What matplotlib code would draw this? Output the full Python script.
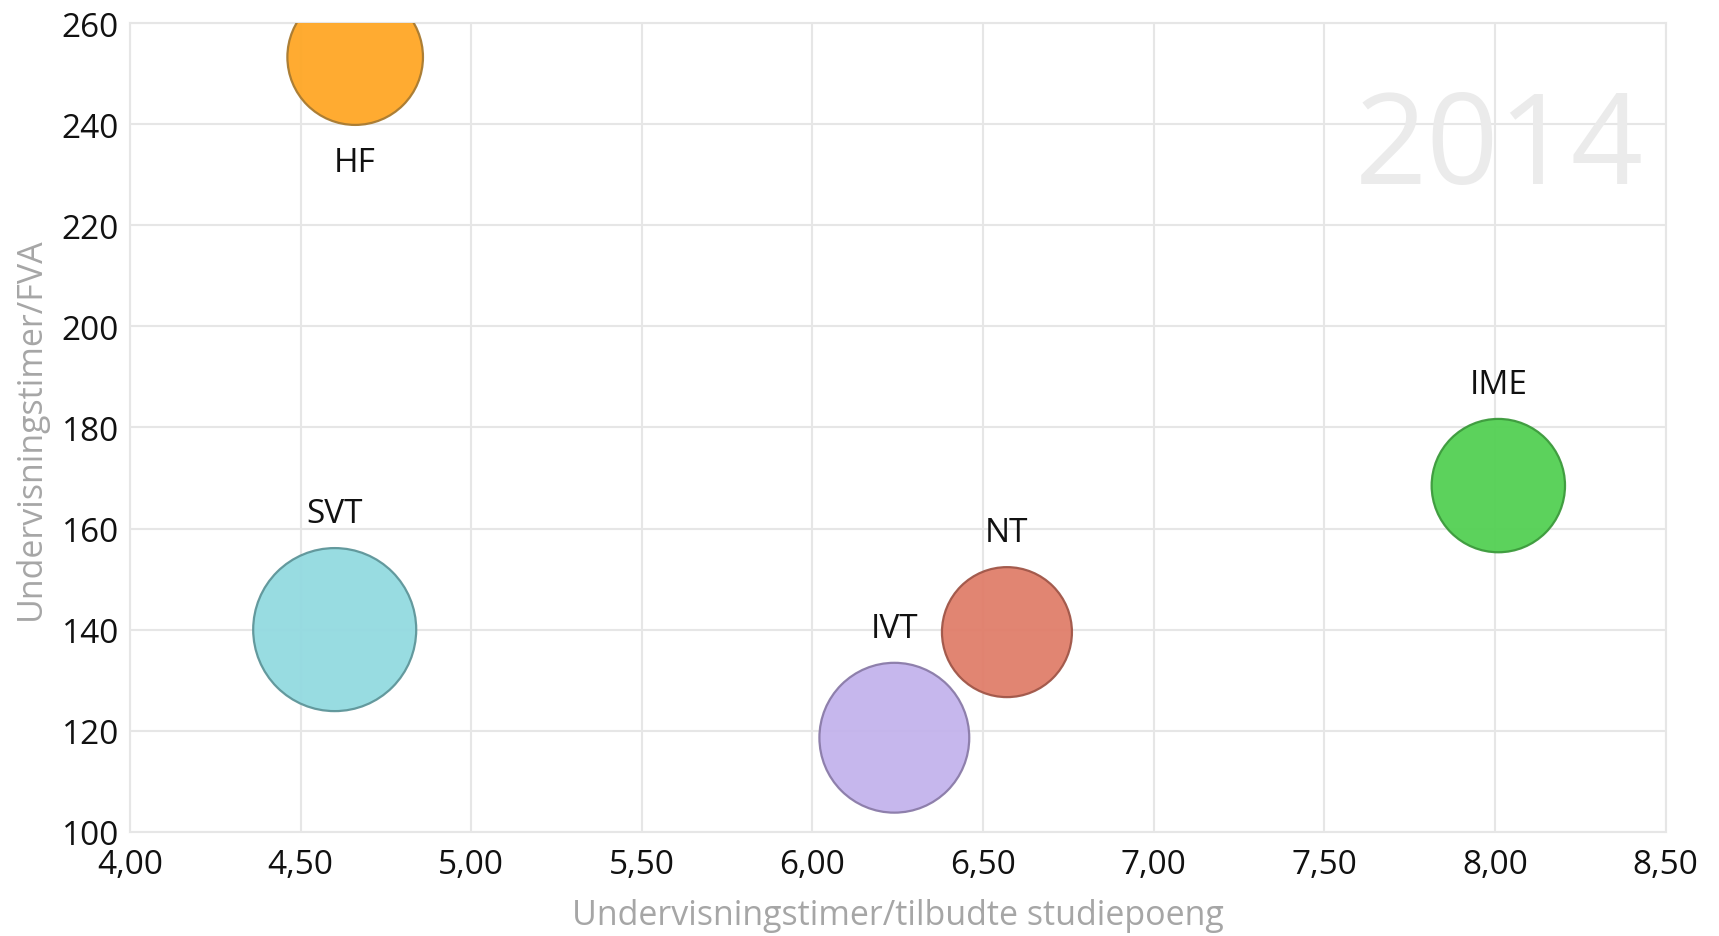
##################################
# Bubble chart: undervisningstimer per fakultet, 2014

import numpy as np
import matplotlib.pyplot as plt

##################################
# Data

fakultet = ['HF', 'SVT', 'IVT', 'NT', 'IME']
timer_per_sp = [4.66, 4.60, 6.24, 6.57, 8.01]
timer_per_fva = [253.3, 140.0, 118.6, 139.5, 168.5]
bubble_size = [9530, 13780, 11640, 8760, 9220]

x_ticks = [4.0, 4.5, 5.0, 5.5, 6.0, 6.5, 7.0, 7.5, 8.0, 8.5]
y_ticks = [100, 120, 140, 160, 180, 200, 220, 240, 260]

face_colors = ['#FFA726', '#93DAE0', '#C3B3EC', '#E07E6A', '#53D053']
edge_colors = ['#A87A30', '#5E9599', '#8A7BA8', '#A05648', '#3C9A3C']
label_below = [True, False, False, False, False]

##################################
# Plotting

plt.rcParams['font.family'] = ['Open Sans', 'DejaVu Sans']

fig = plt.figure(figsize=(17.19, 9.37), dpi=100)
ax = fig.add_axes([0.0756, 0.1113, 0.8933, 0.8628])

ax.scatter(timer_per_sp, timer_per_fva, s=bubble_size, c=face_colors,
           edgecolors=edge_colors, linewidths=1.6, alpha=0.95, zorder=3)

# Labels above (or below) each bubble
for name, x, y, s, below in zip(fakultet, timer_per_sp, timer_per_fva,
                                bubble_size, label_below):
    r = np.sqrt(s) / 2
    off = -(r + 27) if below else (r + 25)
    ax.annotate(name, (x, y), xytext=(0, off), textcoords='offset points',
                ha='center', va='center', fontsize=24, color='#111111',
                zorder=4)

# Year watermark
ax.text(0.986, 0.843, '2014', transform=ax.transAxes, ha='right',
        va='center', fontsize=91, color='#EBEBEB', zorder=1)

ax.set_xlim(4.0, 8.5)
ax.set_ylim(100, 260)
ax.set_xticks(x_ticks)
ax.set_yticks(y_ticks)
ax.set_xticklabels([f'{v:.2f}'.replace('.', ',') for v in x_ticks])
ax.set_yticklabels([str(v) for v in y_ticks])
ax.tick_params(length=0, labelsize=24, colors='#111111')
ax.tick_params(axis='x', pad=12)
ax.tick_params(axis='y', pad=8)

ax.grid(True, color='#E6E6E6', linewidth=1.5, zorder=0)
ax.set_axisbelow(True)
for sp in ax.spines.values():
    sp.set_color('#E6E6E6')
    sp.set_linewidth(1.5)

ax.set_xlabel('Undervisningstimer/tilbudte studiepoeng', fontsize=24.5,
              color='#A6A6A6', labelpad=12)
ax.set_ylabel('Undervisningstimer/FVA', fontsize=24.5, color='#A6A6A6',
              labelpad=10)

fig.savefig('out.png', dpi=100)
